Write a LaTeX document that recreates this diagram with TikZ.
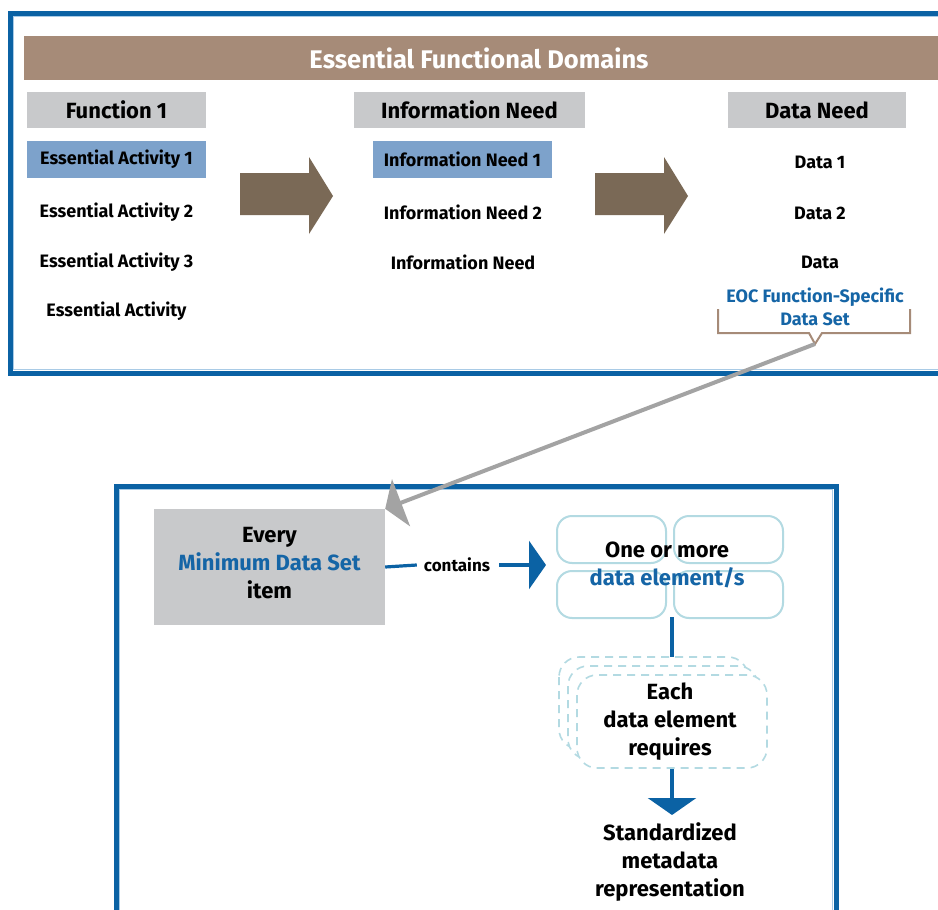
\documentclass[tikz,border=0pt]{standalone}
\usepackage{fontspec}
\setmainfont{Fira Sans}
\usetikzlibrary{arrows.meta}
\definecolor{frameblue}{HTML}{0B62A4}
\definecolor{framelight}{HTML}{A9CBE6}
\definecolor{textblue}{HTML}{1565A6}
\definecolor{bandbrown}{HTML}{A68B78}
\definecolor{arrowbrown}{HTML}{7A6956}
\definecolor{hdrgray}{HTML}{C8C9CB}
\definecolor{hlblue}{HTML}{7DA2CB}
\definecolor{roundblue}{HTML}{B3DAE2}
\definecolor{conngray}{HTML}{A3A3A3}
\tikzset{
  frame/.style={draw=frameblue, line width=5pt},
  framein/.style={draw=framelight, line width=1pt},
  hdr/.style={fill=hdrgray, inner sep=0pt, minimum height=36pt, font=\fontsize{22}{26}\selectfont\bfseries},
  itemtxt/.style={inner sep=0pt, font=\fontsize{18}{22}\selectfont\bfseries},
  hl/.style={itemtxt, fill=hlblue, minimum width=179pt, minimum height=37pt},
  bigtxt/.style={inner sep=0pt, align=center, font=\fontsize{22}{28}\selectfont\bfseries},
  roundbox/.style={draw=roundblue, line width=2pt, rounded corners=15pt},
  dashbox/.style={draw=roundblue, line width=1.6pt, dash pattern=on 8pt off 6pt, rounded corners=20pt, fill=white},
  bluecon/.style={draw=frameblue, line width=3.2pt},
}
\begin{document}
\begin{tikzpicture}[x=1pt,y=-1pt]
\useasboundingbox (0,0) rectangle (938,910);
\clip (0,0) rectangle (938,910);
\fill[white] (0,0) rectangle (938,910);
% top frame
\draw[frame] (10,13) rectangle (960,373);
\draw[framein] (13.5,16.5) rectangle (960,369.5);
% brown band
\fill[bandbrown] (24,36) rectangle (945,80);
\node[text=white, inner sep=0pt, font=\fontsize{25.5}{29}\selectfont\bfseries] (title) at (479,58) {Essential Functional Domains};
% headers
\node[hdr, minimum width=179pt] (h1) at (116.5,110) {Function 1};
\node[hdr, minimum width=231pt] (h2) at (469.5,110) {Information Need};
\node[hdr, minimum width=178pt] (h3) at (817,110) {Data Need};
% column 1
\node[hl] (ea1) at (116.5,159.5) {Essential Activity 1};
\node[itemtxt] (ea2) at (116.5,212) {Essential Activity 2};
\node[itemtxt] (ea3) at (116.5,262) {Essential Activity 3};
\node[itemtxt] (ea) at (116.5,311) {Essential Activity};
% column 2
\node[hl] (in1) at (462.5,159.5) {Information Need 1};
\node[itemtxt] (in2) at (463,212) {Information Need 2};
\node[itemtxt] (in) at (463,262) {Information Need};
% column 3
\node[itemtxt] (d1) at (820,162) {Data 1};
\node[itemtxt] (d2) at (820,213) {Data 2};
\node[itemtxt] (d) at (820,262) {Data};
\node[itemtxt, text=textblue, align=center, font=\fontsize{18}{23}\selectfont\bfseries] (eoc) at (815,306.5) {EOC Function-Specific\\Data Set};
% big arrows
\fill[arrowbrown] (240,173) -- (309,173) -- (309,157) -- (333,196) -- (309,234) -- (309,215) -- (240,215) -- cycle;
\fill[arrowbrown] (595,173) -- (664,173) -- (664,157) -- (688,196) -- (664,234) -- (664,215) -- (595,215) -- cycle;
% bracket
\coordinate (notch) at (815,344);
\draw[bandbrown, line width=2pt, line join=miter] (718,309) -- (718,333) -- (809,333) -- (notch) -- (822,333) -- (910,333) -- (910,309);
% bottom frame
\draw[frame] (116,486) rectangle (836,960);
\draw[framein] (119.5,489.5) rectangle (832.5,960);
% minimum data set box
\node[fill=hdrgray, minimum width=231pt, minimum height=116pt, inner sep=0pt] (mds) at (269.5,567) {};
\node[bigtxt] (mdstxt) at (269.5,563) {Every\\\textcolor{textblue}{Minimum Data Set}\\item};
% gray connector
\draw[conngray, line width=4pt, -{Triangle[length=17pt,width=50pt]}] (notch) -- (mds.north east);
% rounded boxes
\draw[roundbox] (557,516) rectangle (666,563);
\draw[roundbox] (674,516) rectangle (783,563);
\draw[roundbox] (557,571) rectangle (666,618);
\draw[roundbox] (674,571) rectangle (783,618);
\node[bigtxt] (elems) at (667,565) {One or more\\\textcolor{textblue}{data element/s}};
\coordinate (elemsbot) at (672,617);
% contains
\node[inner sep=0pt, font=\fontsize{17}{20}\selectfont\bfseries] (cont) at (457,565) {contains};
\coordinate (elemsleft) at (546,565);
\draw[bluecon] (mds.east) -- ([xshift=-7pt]cont.west);
\draw[bluecon, -{Triangle[length=17pt,width=48pt]}] ([xshift=9pt]cont.east) -- (elemsleft);
% dashed boxes
\draw[dashbox] (559,657) rectangle (748,749);
\draw[dashbox] (568,666) rectangle (758,759);
\draw[dashbox] (577,675) rectangle (767,768);
\node[bigtxt] (each) at (670,722) {Each\\data element\\requires};
\coordinate (dtop) at (672,657);
\draw[bluecon] (elemsbot) -- (dtop);
\coordinate (dbot) at (672,769);
\coordinate (stdtop) at (672,815);
\draw[bluecon, -{Triangle[length=17pt,width=48pt]}] (dbot) -- (stdtop);
\node[bigtxt] (std) at (670,862) {Standardized\\metadata\\representation};
\end{tikzpicture}
\end{document}
